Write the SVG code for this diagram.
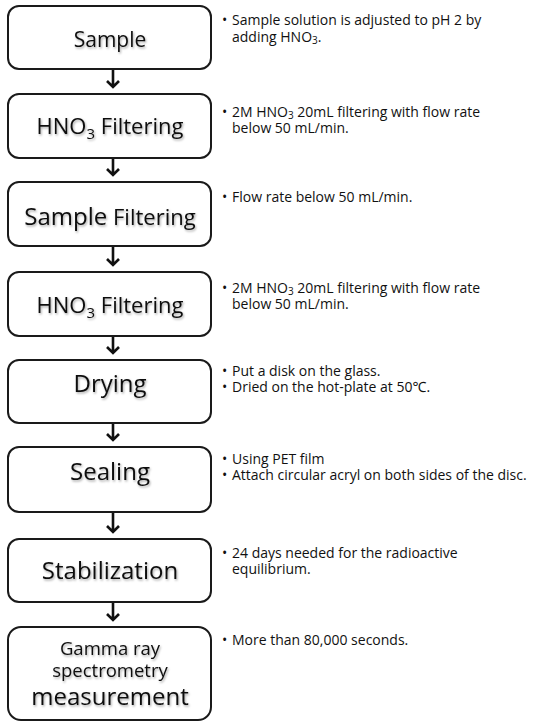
<svg xmlns="http://www.w3.org/2000/svg" width="533" height="722" viewBox="0 0 533 722">
<defs>
<filter id="sh" x="-10%" y="-30%" width="120%" height="160%">
<feDropShadow dx="1" dy="1.5" stdDeviation="1.2" flood-color="#000" flood-opacity="0.35"/>
</filter>
<style>
.box{fill:#fff;stroke:#1a1a1a;stroke-width:2}
.lbl{font-family:"Open Sans","Noto Sans","Liberation Sans",sans-serif;font-size:24px;fill:#111;text-anchor:middle;filter:url(#sh)}
.note{font-family:"Open Sans","Noto Sans","Liberation Sans",sans-serif;font-size:14px;fill:#111}
.sub{font-size:10px}
.arr{fill:none;stroke:#111;stroke-width:2.6;stroke-linecap:butt;stroke-linejoin:miter}
</style>
</defs>
<rect width="533" height="722" fill="#fff"/>
<g id="connectors">
<path class="arr" d="M113,70 V87 M107,81 L113,87 L119,81"/>
<path class="arr" d="M113,159 V175 M107,169 L113,175 L119,169"/>
<path class="arr" d="M113,247 V265 M107,259 L113,265 L119,259"/>
<path class="arr" d="M113,337 V353 M107,347 L113,353 L119,347"/>
<path class="arr" d="M113,424 V440 M107,434 L113,440 L119,434"/>
<path class="arr" d="M113,513 V532 M107,526 L113,532 L119,526"/>
<path class="arr" d="M113,603 V620 M107,614 L113,620 L119,614"/>
</g>
<g id="n1">
<rect class="box" x="8" y="6" width="203" height="63" rx="11"/>
<text class="lbl" x="110" y="47" style="font-size:21px">Sample</text>
<text class="note" x="222" y="25">•</text>
<text class="note" x="232" y="25">Sample solution is adjusted to pH 2 by</text>
<text class="note" x="232" y="42">adding HNO<tspan class="sub" dy="2">3</tspan><tspan dy="-2">.</tspan></text>
</g>
<g id="n2">
<rect class="box" x="8" y="94" width="203" height="64" rx="11"/>
<text class="lbl" x="110" y="134" style="font-size:22px">HNO<tspan style="font-size:15px" dy="5">3</tspan><tspan dy="-5"> Filtering</tspan></text>
<text class="note" x="222" y="117">•</text>
<text class="note" x="232" y="117">2M HNO<tspan class="sub" dy="2">3</tspan><tspan dy="-2"> 20mL filtering with flow rate</tspan></text>
<text class="note" x="232" y="133">below 50 mL/min.</text>
</g>
<g id="n3">
<rect class="box" x="8" y="182" width="203" height="64" rx="11"/>
<text class="lbl" x="110" y="225" style="font-size:22px"><tspan style="font-size:24px">Sample</tspan> Filtering</text>
<text class="note" x="222" y="202">•</text>
<text class="note" x="232" y="202">Flow rate below 50 mL/min.</text>
</g>
<g id="n4">
<rect class="box" x="8" y="272" width="203" height="64" rx="11"/>
<text class="lbl" x="110" y="313" style="font-size:22px">HNO<tspan style="font-size:15px" dy="5">3</tspan><tspan dy="-5"> Filtering</tspan></text>
<text class="note" x="222" y="293">•</text>
<text class="note" x="232" y="293">2M HNO<tspan class="sub" dy="2">3</tspan><tspan dy="-2"> 20mL filtering with flow rate</tspan></text>
<text class="note" x="232" y="309">below 50 mL/min.</text>
</g>
<g id="n5">
<rect class="box" x="8" y="360" width="203" height="63" rx="11"/>
<text class="lbl" x="110" y="392">Drying</text>
<text class="note" x="222" y="376">•</text>
<text class="note" x="232" y="376">Put a disk on the glass.</text>
<text class="note" x="222" y="392">•</text>
<text class="note" x="232" y="392">Dried on the hot-plate at 50℃.</text>
</g>
<g id="n6">
<rect class="box" x="8" y="447" width="203" height="65" rx="11"/>
<text class="lbl" x="110" y="480">Sealing</text>
<text class="note" x="222" y="464">•</text>
<text class="note" x="232" y="464">Using PET film</text>
<text class="note" x="222" y="480">•</text>
<text class="note" x="232" y="480">Attach circular acryl on both sides of the disc.</text>
</g>
<g id="n7">
<rect class="box" x="8" y="539" width="203" height="63" rx="11"/>
<text class="lbl" x="110" y="579">Stabilization</text>
<text class="note" x="222" y="558">•</text>
<text class="note" x="232" y="558">24 days needed for the radioactive</text>
<text class="note" x="232" y="574">equilibrium.</text>
</g>
<g id="n8">
<rect class="box" x="8" y="627" width="203" height="93" rx="13"/>
<text class="lbl" x="110" y="655" style="font-size:18.5px">Gamma ray</text>
<text class="lbl" x="110" y="677" style="font-size:18.5px">spectrometry</text>
<text class="lbl" x="110" y="705">measurement</text>
<text class="note" x="222" y="645">•</text>
<text class="note" x="232" y="645">More than 80,000 seconds.</text>
</g>
</svg>
